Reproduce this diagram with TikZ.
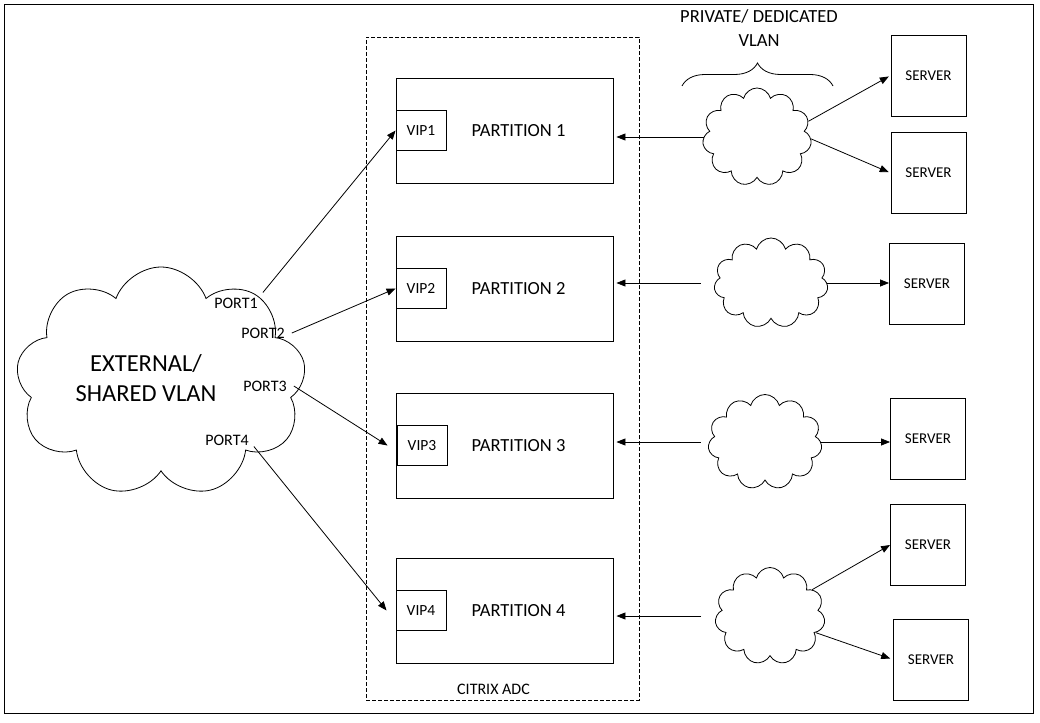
\documentclass[tikz,border=0pt]{standalone}
\usepackage{fontspec}
\setmainfont{Carlito}
\usepackage{tikz}
\usetikzlibrary{
    positioning,      % For placing nodes relative to each other
    shapes.symbols,   % For the cloud shapes
    decorations.pathreplacing, % For the curly brace
    arrows.meta       % For the filled arrow tips
}

\begin{document}
\begin{tikzpicture}[
    x=1pt, y=-1pt,
    % Style for the partition boxes
    part_style/.style={
        draw, line width=0.9pt,
        minimum width=217pt, minimum height=105pt,
        inner sep=0pt
    },
    % Style for the text inside a partition
    part_text/.style={
        font=\fontsize{18.5}{22}\selectfont,
        xshift=14pt, inner sep=0pt
    },
    % Style for the small VIP boxes
    vip_style/.style={
        draw, line width=0.9pt,
        minimum width=50pt, minimum height=40pt,
        inner sep=0pt, font=\fontsize{15.5}{17}\selectfont
    },
    % Style for the server boxes
    server_style/.style={
        draw, line width=0.9pt,
        minimum width=75pt, minimum height=81pt,
        inner sep=0pt, font=\fontsize{15}{17}\selectfont
    },
    % Style for the clouds
    cloud_style/.style={
        draw, cloud, cloud puffs=11, cloud ignores aspect,
        line width=0.8pt, inner sep=0pt
    },
    % Style for the port labels
    port_text/.style={
        font=\fontsize{16}{18}\selectfont, inner sep=1pt
    },
    % Style for arrowheads
    arrow_tip/.style={
        line width=0.8pt,
        -{Triangle[length=9pt, width=7pt]}
    }
]
    \useasboundingbox (0,0) rectangle (1040,722);
    \draw[line width=1pt] (4.5,5) rectangle (1033,713);

    % 1. The Citrix ADC frame and its partitions.
    \node[draw, dash pattern=on 4pt off 2pt, line width=0.8pt,
        minimum width=273pt, minimum height=663pt] (adc) at (502.5,368.5) {};
    \node[font=\fontsize{16}{18}\selectfont, inner sep=0pt,
        above=6pt of adc.south, xshift=-9pt] (adc_label) {CITRIX ADC};

    \node[part_style, label={[part_text]center:PARTITION 1}] (part1) at (504.5,130.5) {};
    \node[part_style, label={[part_text]center:PARTITION 2}] (part2) at (504.5,288.5) {};
    \node[part_style, label={[part_text]center:PARTITION 3}] (part3) at (504.5,445.5) {};
    \node[part_style, label={[part_text]center:PARTITION 4}] (part4) at (504.5,610.5) {};

    \node[vip_style, right=0pt of part1.west] (vip1) {VIP1};
    \node[vip_style, right=0pt of part2.west] (vip2) {VIP2};
    \node[vip_style, right=1pt of part3.west] (vip3) {VIP3};
    \node[vip_style, right=0pt of part4.west] (vip4) {VIP4};

    % 2. The external cloud with its ports.
    \node[cloud_style, cloud puffs=9, cloud puff arc=140,
        minimum width=290pt, minimum height=230pt,
        label={[align=center, font=\fontsize{24.5}{30}\selectfont,
            xshift=-15pt, yshift=4pt]center:{EXTERNAL/\\SHARED VLAN}}]
        (ext) at (161,382) {};
    \node[port_text] (port1) at (236,303) {PORT1};
    \node[port_text] (port2) at (263,333) {PORT2};
    \node[port_text] (port3) at (265,386) {PORT3};
    \node[port_text] (port4) at (227,440) {PORT4};

    % 3. The private clouds and the servers.
    \node[cloud_style, minimum width=109pt, minimum height=98pt] (cloud1) at (757,137) {};
    \node[cloud_style, minimum width=114pt, minimum height=90pt] (cloud2) at (771,283) {};
    \node[cloud_style, minimum width=114pt, minimum height=95pt] (cloud3) at (765,442) {};
    \node[cloud_style, minimum width=110pt, minimum height=97pt] (cloud4) at (770,616) {};

    \node[server_style] (srv1) at (928.5,75.5) {SERVER};
    \node[server_style] (srv2) at (928.5,173) {SERVER};
    \node[server_style] (srv3) at (927,283.5) {SERVER};
    \node[server_style] (srv4) at (928,438.5) {SERVER};
    \node[server_style] (srv5) at (928,545) {SERVER};
    \node[server_style] (srv6) at (931,659.5) {SERVER};

    % 4. The brace over the first private cloud.
    \coordinate (brace_left) at (682,86);
    \coordinate (brace_right) at (833,86);
    \draw[line width=0.8pt, decorate, decoration={brace, amplitude=23pt}]
        (brace_left) -- (brace_right);
    \node[align=center, font=\fontsize{18.5}{24}\selectfont, inner sep=0pt]
        (vlan_label) at (759,28) {PRIVATE/ DEDICATED\\VLAN};

    % 5. Arrows from the ports to the VIPs.
    \draw[arrow_tip] ([shift={(4,-4)}]port1.north east) -- (vip1.west);
    \draw[arrow_tip] ([xshift=6pt]port2.east) -- (vip2.west);
    \draw[arrow_tip] ([xshift=6pt]port3.east) -- ([xshift=-9pt]vip3.west);
    \draw[arrow_tip] ([xshift=4pt]port4.south east) -- ([xshift=-9pt]vip4.west);

    % 6. Arrows from the private clouds to the partitions.
    \draw[arrow_tip, shorten >=3pt] (cloud1.west) -- (cloud1.west -| part1.east);
    \draw[arrow_tip, shorten >=3pt, shorten <=14pt] (cloud2.west) -- (cloud2.west -| part2.east);
    \draw[arrow_tip, shorten >=3pt, shorten <=8pt] (cloud3.west) -- (cloud3.west -| part3.east);
    \draw[arrow_tip, shorten >=3pt, shorten <=15pt] (cloud4.west) -- (cloud4.west -| part4.east);

    % 7. Arrows from the private clouds to the servers.
    \draw[arrow_tip, shorten >=2pt] (cloud1.17) -- (srv1.west);
    \draw[arrow_tip, shorten >=2pt] (cloud1.-2) -- (srv2.west);
    \draw[arrow_tip] (cloud2.east) -- (cloud2.east -| srv3.west);
    \draw[arrow_tip] (cloud3.east) -- (cloud3.east -| srv4.west);
    \draw[arrow_tip] (cloud4.32) -- (srv5.west);
    \draw[arrow_tip, shorten >=3pt] (cloud4.-20) -- (srv6.west);

\end{tikzpicture}
\end{document}
